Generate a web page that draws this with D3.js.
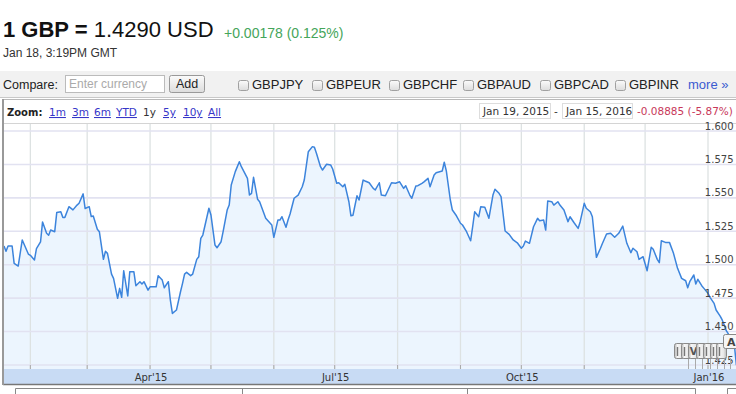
<!DOCTYPE html>
<html>
<head>
<meta charset="utf-8">
<script src="https://cdn.jsdelivr.net/npm/d3@7"></script>
<style>
  body { margin: 0; background: #fff; }
  svg { display: block; }
</style>
</head>
<body>
<script>
// GBP/USD, one year of closes (day offset from Jan 19, 2015)
var days = [
  0,1,2,4,5,7,9,12,13,15,
  16,18,19,21,22,23,25,26,28,29,
  30,32,34,36,37,39,40,42,43,44,
  46,47,49,50,51,53,54,56,57,58,
  59,61,62,64,65,67,68,69,71,72,
  75,76,78,79,81,82,83,85,87,88,
  89,90,92,93,95,96,97,98,101,102,
  104,105,107,108,110,111,112,114,116,117,
  120,121,122,123,125,126,128,129,132,133,
  135,136,137,139,140,141,143,145,147,148,
  150,152,153,154,156,157,159,161,162,164,
  165,167,168,170,171,172,174,175,177,178,
  180,182,183,185,186,188,191,193,195,197,
  198,200,201,203,204,206,207,209,210,212,
  213,216,217,218,220,221,223,225,226,228,
  230,231,232,234,235,237,239,241,242,244,
  245,247,249,251,253,255,256,257,259,261,
  263,264,266,267,268,270,271,273,274,276,
  278,279,281,283,284,286,287,289,290,292,
  294,295,297,299,301,303,305,307,309,310,
  312,313,315,317,319,320,322,323,324,326,
  328,330,332,334,336,337,338,340,341,342,
  344,345,347,348,350,351,353,354,355,356,
  358,360,361
];
var rates = [
  1.514,1.510,1.514,1.514,1.501,1.499,1.5185,1.508,1.507,1.5035,
  1.512,1.517,1.532,1.5235,1.522,1.526,1.5247,1.539,1.5396,1.5354,
  1.5354,1.5434,1.541,1.5446,1.546,1.553,1.542,1.5434,1.536,1.5364,
  1.5265,1.5247,1.504,1.510,1.5085,1.493,1.4898,1.4749,1.4823,1.4756,
  1.4955,1.4766,1.4948,1.4948,1.4843,1.4873,1.4856,1.4873,1.481,1.4835,
  1.4835,1.4918,1.4885,1.4828,1.4873,1.4736,1.4636,1.4661,1.4798,1.4861,
  1.493,1.4943,1.4918,1.493,1.504,1.506,1.5197,1.5222,1.5422,1.5372,
  1.5147,1.5127,1.5172,1.5247,1.5409,1.5446,1.5596,1.5696,1.577,1.5733,
  1.5646,1.5521,1.5534,1.5654,1.5489,1.5471,1.5389,1.5347,1.5297,1.5205,
  1.5334,1.5334,1.5359,1.528,1.5334,1.5379,1.5497,1.5521,1.5583,1.5633,
  1.5845,1.5883,1.5878,1.5833,1.5733,1.5708,1.5751,1.5746,1.5716,1.5609,
  1.5613,1.5583,1.5601,1.5471,1.5366,1.537,1.5516,1.5484,1.5633,1.5626,
  1.5613,1.5571,1.5559,1.5613,1.5521,1.5516,1.5613,1.5609,1.562,1.5571,
  1.5591,1.5521,1.5497,1.5589,1.5591,1.5609,1.562,1.5646,1.5583,1.5671,
  1.5688,1.5701,1.5766,1.5703,1.5484,1.5409,1.5366,1.531,1.5297,1.5247,
  1.5179,1.5284,1.5396,1.5359,1.5434,1.5429,1.5347,1.5521,1.5564,1.5534,
  1.5509,1.5252,1.5227,1.5185,1.5164,1.5123,1.514,1.5177,1.516,1.5284,
  1.5347,1.5329,1.5334,1.5259,1.5476,1.5471,1.5446,1.5471,1.5446,1.5409,
  1.5322,1.5359,1.5314,1.5272,1.5322,1.5459,1.5422,1.5396,1.5359,1.5055,
  1.5123,1.516,1.523,1.5235,1.5205,1.5235,1.5289,1.516,1.509,1.5123,
  1.5097,1.504,1.506,1.4955,1.513,1.5115,1.504,1.5015,1.5179,1.5167,
  1.5167,1.5085,1.4973,1.4898,1.488,1.4828,1.4873,1.4923,1.4856,1.4891,
  1.4841,1.4823,1.4786,1.4756,1.4711,1.4661,1.4616,1.4587,1.4549,1.4507,
  1.446,1.440,1.4248
];
var yTicks = [1.425, 1.450, 1.475, 1.500, 1.525, 1.550, 1.575, 1.600];
var compareCodes = ["GBPJPY", "GBPEUR", "GBPCHF", "GBPAUD", "GBPCAD", "GBPINR"];
var compareX = [238, 312, 389, 463, 540, 615];
var zoomLinks = ["1m", "3m", "6m", "YTD", "1y", "5y", "10y", "All"];
var zoomX = [49, 72, 94, 116, 143, 163, 183, 208];
var flagX = [674, 681, 688, 696, 703, 710, 716];
var flagText = ["", "", "V", "", "", "", ""];

var startDate = new Date(Date.UTC(2015, 0, 19)),
	endDate = new Date(Date.UTC(2016, 0, 15));

var data = days.map(function(d, i) {
	return { date: d3.utcDay.offset(startDate, d), rate: rates[i] };
});

var svg = d3.select("body").append("svg")
	.attr("width", 736)
	.attr("height", 394);

var defs = svg.append("defs");
var g1 = defs.append("linearGradient").attr("id", "btn").attr("x1", 0).attr("y1", 0).attr("x2", 0).attr("y2", 1);
g1.append("stop").attr("offset", 0).attr("stop-color", "#fbfbfb");
g1.append("stop").attr("offset", 1).attr("stop-color", "#dcdcdc");
var g2 = defs.append("linearGradient").attr("id", "flag").attr("x1", 0).attr("y1", 0).attr("x2", 1).attr("y2", 0);
g2.append("stop").attr("offset", 0).attr("stop-color", "#b5b5b5");
g2.append("stop").attr("offset", 0.3).attr("stop-color", "#f6f6f6");
g2.append("stop").attr("offset", 0.7).attr("stop-color", "#e8e8e8");
g2.append("stop").attr("offset", 1).attr("stop-color", "#bdbdbd");
defs.append("clipPath").attr("id", "plot")
	.append("rect").attr("x", 3).attr("y", 124).attr("width", 733).attr("height", 245);

// header
var head = svg.append("text")
	.attr("x", 3).attr("y", 37)
	.style("font-family", "Liberation Sans, Arial, sans-serif")
	.style("font-size", "22px")
	.attr("fill", "#111");
head.append("tspan").style("font-weight", "bold").text("1 GBP = ");
head.append("tspan").text("1.4290 USD");

svg.append("text")
	.attr("x", 224).attr("y", 38)
	.style("font-family", "Liberation Sans, Arial, sans-serif")
	.style("font-size", "14px")
	.attr("fill", "#45a55a")
	.text("+0.00178 (0.125%)");

svg.append("text")
	.attr("x", 3).attr("y", 57)
	.style("font-family", "Liberation Sans, Arial, sans-serif")
	.style("font-size", "12px")
	.attr("fill", "#333")
	.text("Jan 18, 3:19PM GMT");

// compare bar
svg.append("rect").attr("x", 0).attr("y", 71).attr("width", 736).attr("height", 26).attr("fill", "#f1f1f1");
svg.append("line").attr("x1", 0).attr("x2", 736).attr("y1", 97.5).attr("y2", 97.5).attr("stroke", "#c8c8c8");

var bar = svg.append("g")
	.style("font-family", "Liberation Sans, Arial, sans-serif")
	.style("font-size", "13px");

bar.append("text").attr("x", 3).attr("y", 89).attr("fill", "#222").style("font-size", "12.5px").text("Compare:");
bar.append("rect").attr("x", 65.5).attr("y", 75.5).attr("width", 99).attr("height", 17)
	.attr("fill", "#fff").attr("stroke", "#bbb");
bar.append("text").attr("x", 69).attr("y", 88).attr("fill", "#aaa").style("font-size", "12px").text("Enter currency");
bar.append("rect").attr("x", 169.5).attr("y", 75.5).attr("width", 35).attr("height", 17).attr("rx", 2)
	.attr("fill", "url(#btn)").attr("stroke", "#999");
bar.append("text").attr("x", 187).attr("y", 88).attr("text-anchor", "middle").attr("fill", "#222")
	.style("font-size", "12.5px").text("Add");

var cb = bar.selectAll(".cb").data(compareCodes).enter().append("g").attr("class", "cb");
cb.append("rect")
	.attr("x", function(d, i) { return compareX[i] + 0.5; })
	.attr("y", 80.5).attr("width", 10).attr("height", 10).attr("rx", 2)
	.attr("fill", "url(#btn)").attr("stroke", "#a0a0a0");
cb.append("text")
	.attr("x", function(d, i) { return compareX[i] + 14; })
	.attr("y", 89).attr("fill", "#222")
	.text(function(d) { return d; });

bar.append("text").attr("x", 688).attr("y", 89).attr("fill", "#3b5bd0").text("more \u00bb");

// chart frame
svg.append("line").attr("x1", 3).attr("x2", 736).attr("y1", 99.5).attr("y2", 99.5).attr("stroke", "#b8b8b8");
svg.append("line").attr("x1", 3).attr("x2", 736).attr("y1", 123.5).attr("y2", 123.5).attr("stroke", "#d4d4d4");

var zoomRow = svg.append("g")
	.style("font-family", "DejaVu Sans, Verdana, sans-serif")
	.style("font-size", "10.5px");

zoomRow.append("text").attr("x", 7).attr("y", 116).style("font-weight", "bold").attr("fill", "#222")
	.style("font-size", "10px").text("Zoom:");
zoomRow.selectAll(".zl").data(zoomLinks).enter().append("text")
	.attr("class", "zl")
	.attr("x", function(d, i) { return zoomX[i]; })
	.attr("y", 116)
	.attr("fill", function(d) { return d === "1y" ? "#333" : "#3636c8"; })
	.style("text-decoration", function(d) { return d === "1y" ? "none" : "underline"; })
	.text(function(d) { return d; });

zoomRow.append("rect").attr("x", 479.5).attr("y", 103.5).attr("width", 71).attr("height", 15)
	.attr("fill", "#fff").attr("stroke", "#ddd");
zoomRow.append("text").attr("x", 483).attr("y", 115).attr("fill", "#333").text("Jan 19, 2015");
zoomRow.append("text").attr("x", 554).attr("y", 115).attr("fill", "#333").text("-");
zoomRow.append("rect").attr("x", 562.5).attr("y", 103.5).attr("width", 70).attr("height", 15)
	.attr("fill", "#fff").attr("stroke", "#ddd");
zoomRow.append("text").attr("x", 566).attr("y", 115).attr("fill", "#333").text("Jan 15, 2016");
zoomRow.append("text").attr("x", 637).attr("y", 115).attr("fill", "#c8385a").text("-0.08885 (-5.87%)");

// scales
var x = d3.scaleUtc().domain([startDate, endDate]).range([4, 736.4]);
var y = d3.scaleLinear().domain([1.425, 1.6]).range([365, 131]);

var plot = svg.append("g").attr("clip-path", "url(#plot)");

var area = d3.area()
	.x(function(d) { return x(d.date); })
	.y0(369)
	.y1(function(d) { return y(d.rate); });

var line = d3.line()
	.x(function(d) { return x(d.date); })
	.y(function(d) { return y(d.rate); });

plot.append("path").datum(data).attr("d", area).attr("fill", "#ecf5fe");

var months = x.ticks(d3.utcMonth.every(1));
plot.selectAll(".vg").data(months).enter().append("line")
	.attr("x1", function(d) { return x(d); })
	.attr("x2", function(d) { return x(d); })
	.attr("y1", 124).attr("y2", 369)
	.attr("stroke", "#dde2e2").attr("stroke-width", 1.3);

plot.selectAll(".hg").data(yTicks).enter().append("line")
	.attr("x1", 3).attr("x2", 736)
	.attr("y1", function(d) { return y(d); })
	.attr("y2", function(d) { return y(d); })
	.attr("stroke", "#e2e2f1").attr("stroke-width", 1.6);

plot.append("path").datum(data).attr("d", line)
	.attr("fill", "none").attr("stroke", "#3c84dc").attr("stroke-width", 1.5)
	.attr("stroke-linejoin", "round");

// y axis labels (right side, inside plot)
svg.append("g")
	.style("font-family", "DejaVu Sans, Verdana, sans-serif")
	.style("font-size", "10px")
	.selectAll("text").data(yTicks).enter().append("text")
	.attr("x", 733.5)
	.attr("y", function(d) { return y(d) - 1.5; })
	.attr("text-anchor", "end")
	.attr("fill", "#444")
	.text(d3.format(".3f"));

// news flags
var flags = svg.append("g");
flags.selectAll(".pole").data(flagX).enter().append("line")
	.attr("x1", function(d) { return d + 14.5; })
	.attr("x2", function(d) { return d + 14.5; })
	.attr("y1", 358).attr("y2", 369)
	.attr("stroke", "#aaa");
var fl = flags.selectAll(".fl").data(flagX).enter().append("g");
fl.append("rect")
	.attr("x", function(d) { return d + 0.5; })
	.attr("y", 343.5).attr("width", 10).attr("height", 15).attr("rx", 2)
	.attr("fill", "url(#flag)").attr("stroke", "#8a8a8a");
fl.append("line")
	.attr("x1", function(d) { return d + 3.5; })
	.attr("x2", function(d) { return d + 3.5; })
	.attr("y1", 347).attr("y2", 356)
	.attr("stroke", function(d, i) { return flagText[i] ? "none" : "#777"; })
	.attr("stroke-width", 1.4);
fl.append("text")
	.attr("x", function(d) { return d + 5.5; })
	.attr("y", 355)
	.attr("text-anchor", "middle")
	.style("font-family", "DejaVu Sans, sans-serif")
	.style("font-size", "10px")
	.style("font-weight", "bold")
	.attr("fill", "#555")
	.text(function(d, i) { return flagText[i]; });
flags.append("rect").attr("x", 723.5).attr("y", 334.5).attr("width", 15).attr("height", 14).attr("rx", 2)
	.attr("fill", "#f6f6f6").attr("stroke", "#888");
flags.append("text").attr("x", 727).attr("y", 345.5)
	.style("font-family", "DejaVu Sans, sans-serif").style("font-size", "11px").style("font-weight", "bold")
	.attr("fill", "#444").text("A");

// x axis band
svg.append("rect").attr("x", 3).attr("y", 369).attr("width", 733).attr("height", 15).attr("fill", "#c8dbf4");
svg.selectAll(".xt").data(months).enter().append("line")
	.attr("x1", function(d) { return x(d); })
	.attr("x2", function(d) { return x(d); })
	.attr("y1", 365).attr("y2", 369)
	.attr("stroke", "#a8a8a8");
svg.append("g")
	.style("font-family", "DejaVu Sans, Verdana, sans-serif")
	.style("font-size", "10px")
	.selectAll("text").data(x.ticks(d3.utcMonth.every(3))).enter().append("text")
	.attr("x", function(d) { return x(d) + 1; })
	.attr("y", 381)
	.attr("text-anchor", "middle")
	.attr("fill", "#333")
	.text(d3.utcFormat("%b'%y"));
svg.append("line").attr("x1", 3).attr("x2", 736).attr("y1", 384.5).attr("y2", 384.5).attr("stroke", "#777").attr("stroke-width", 1.5);
svg.append("line").attr("x1", 3).attr("x2", 3).attr("y1", 99).attr("y2", 385).attr("stroke", "#999").attr("stroke-width", 2);

// navigator outline below
var nav = svg.append("g").attr("stroke", "#888").attr("fill", "none");
nav.append("path").attr("d", "M15.5,394V388.5H695.5V394");
nav.append("path").attr("d", "M242.5,388.5V394M467.5,388.5V394");
nav.append("path").attr("d", "M727.5,394V388.5H736");
</script>
</body>
</html>
